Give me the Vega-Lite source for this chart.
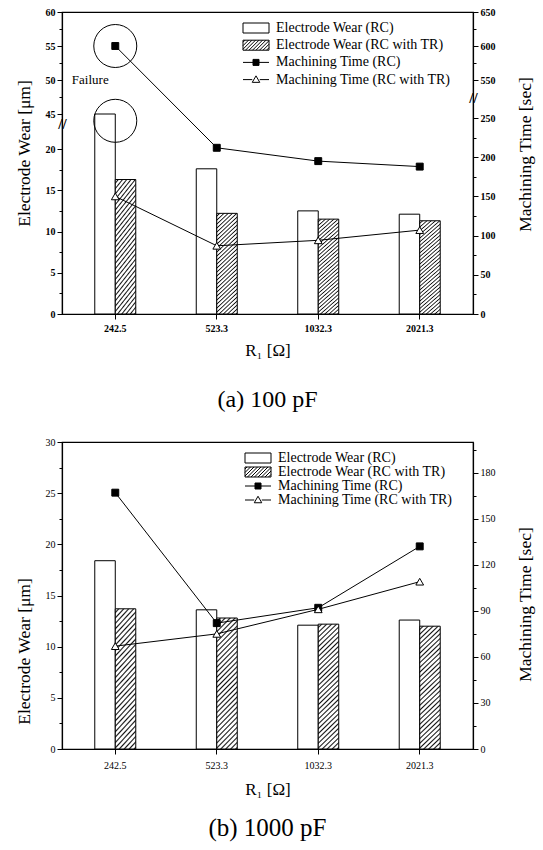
{
  "$schema": "https://vega.github.io/schema/vega-lite/v6.json",
  "background": "white",
  "padding": {"left": 14, "top": 6, "right": 5, "bottom": 5},
  "datasets": {
    "a_wear": [
      {"R": 242.5, "series": "Electrode Wear (RC)", "wear": 45},
      {"R": 523.3, "series": "Electrode Wear (RC)", "wear": 17.6},
      {"R": 1032.3, "series": "Electrode Wear (RC)", "wear": 12.5},
      {"R": 2021.3, "series": "Electrode Wear (RC)", "wear": 12.1},
      {"R": 242.5, "series": "Electrode Wear (RC with TR)", "wear": 16.3},
      {"R": 523.3, "series": "Electrode Wear (RC with TR)", "wear": 12.2},
      {"R": 1032.3, "series": "Electrode Wear (RC with TR)", "wear": 11.5},
      {"R": 2021.3, "series": "Electrode Wear (RC with TR)", "wear": 11.3}
    ],
    "a_time": [
      {"R": 242.5, "series": "Machining Time (RC)", "time": 600},
      {"R": 523.3, "series": "Machining Time (RC)", "time": 212},
      {"R": 1032.3, "series": "Machining Time (RC)", "time": 195},
      {"R": 2021.3, "series": "Machining Time (RC)", "time": 188},
      {"R": 242.5, "series": "Machining Time (RC with TR)", "time": 150},
      {"R": 523.3, "series": "Machining Time (RC with TR)", "time": 87},
      {"R": 1032.3, "series": "Machining Time (RC with TR)", "time": 94},
      {"R": 2021.3, "series": "Machining Time (RC with TR)", "time": 107}
    ],
    "a_note": [
      {"R": 242.5, "kind": "circle", "wear": 55},
      {"R": 242.5, "kind": "circle", "wear": 44},
      {"R": 242.5, "kind": "text", "wear": 50, "label": "Failure"}
    ],
    "b_wear": [
      {"R": 242.5, "series": "Electrode Wear (RC)", "wear": 18.4},
      {"R": 523.3, "series": "Electrode Wear (RC)", "wear": 13.6},
      {"R": 1032.3, "series": "Electrode Wear (RC)", "wear": 12.1},
      {"R": 2021.3, "series": "Electrode Wear (RC)", "wear": 12.6},
      {"R": 242.5, "series": "Electrode Wear (RC with TR)", "wear": 13.7},
      {"R": 523.3, "series": "Electrode Wear (RC with TR)", "wear": 12.8},
      {"R": 1032.3, "series": "Electrode Wear (RC with TR)", "wear": 12.2},
      {"R": 2021.3, "series": "Electrode Wear (RC with TR)", "wear": 12.0}
    ],
    "b_time": [
      {"R": 242.5, "series": "Machining Time (RC)", "time": 167},
      {"R": 523.3, "series": "Machining Time (RC)", "time": 82},
      {"R": 1032.3, "series": "Machining Time (RC)", "time": 92},
      {"R": 2021.3, "series": "Machining Time (RC)", "time": 132},
      {"R": 242.5, "series": "Machining Time (RC with TR)", "time": 67},
      {"R": 523.3, "series": "Machining Time (RC with TR)", "time": 75},
      {"R": 1032.3, "series": "Machining Time (RC with TR)", "time": 91},
      {"R": 2021.3, "series": "Machining Time (RC with TR)", "time": 109}
    ]
  },
  "spacing": 128,
  "bounds": "flush",
  "resolve": {
    "scale": {"x": "independent", "y": "independent", "fill": "independent", "xOffset": "independent"},
    "legend": {"fill": "independent"}
  },
  "vconcat": [
    {
      "width": 411,
      "height": 302,
      "title": {"text": "(a) 100 pF", "orient": "bottom", "fontSize": 24, "offset": 30},
      "encoding": {
        "x": {
          "field": "R", "type": "ordinal",
          "scale": {"type": "band", "paddingInner": 0.596, "paddingOuter": 0.323},
          "axis": {"title": "R₁ [Ω]", "labelAngle": 0, "labelFontSize": 10, "labelFontWeight": "bold", "tickSize": 5, "labelPadding": 4, "titleFontSize": 17, "titlePadding": 9}
        }
      },
      "layer": [
        {
          "encoding": {
            "y": {
              "field": "wear", "type": "quantitative",
              "scale": {"type": "linear", "domain": [0, 22, 44, 60], "range": [302, 120.5, 108.8, 0], "nice": false, "zero": false},
              "axis": {
                "title": "Electrode Wear [μm]", "titleFontSize": 17.5, "titlePadding": 12, "titleY": 141,
                "values": [0, 2.5, 5, 7.5, 10, 12.5, 15, 17.5, 20, 38, 45, 47.5, 50, 52.5, 55, 57.5, 60],
                "labelExpr": "datum.value === 38 ? '//' : (datum.value % 5 === 0 ? datum.label : '')",
                "tickSize": {"condition": [{"test": "datum.value === 38", "value": 0}, {"test": "datum.value % 5 === 0", "value": 5}], "value": 3},
                "labelAlign": {"condition": {"test": "datum.value === 38", "value": "center"}, "value": "right"},
                "labelPadding": {"condition": {"test": "datum.value === 38", "value": 0}, "value": 2},
                "labelFontSize": {"condition": {"test": "datum.value === 38", "value": 15}, "value": 10},
                "labelFontWeight": "bold", "labelOverlap": false
              }
            }
          },
          "layer": [
            {
              "data": {"name": "a_wear"},
              "transform": [{"filter": "datum.series === 'Electrode Wear (RC)'"}],
              "mark": {"type": "bar", "fill": "white", "stroke": "black", "strokeWidth": 1},
              "encoding": {"xOffset": {"field": "series", "type": "nominal", "scale": {"domain": ["Electrode Wear (RC)", "Electrode Wear (RC with TR)"], "paddingInner": 0, "paddingOuter": 0}}}
            },
            {
              "data": {"name": "a_wear"},
              "transform": [{"filter": "datum.series === 'Electrode Wear (RC with TR)'"}],
              "mark": {"type": "bar", "stroke": "black", "strokeWidth": 1,
                "fill": {
                  "gradient": "linear", "x1": 0, "y1": 0, "x2": 0.22, "y2": 1.15,
                  "stops": [
                    {"offset": 0, "color": "#fff"}, {"offset": 0.0133, "color": "#fff"}, {"offset": 0.0233, "color": "#111"},
                    {"offset": 0.0333, "color": "#fff"}, {"offset": 0.0467, "color": "#fff"}, {"offset": 0.0567, "color": "#111"},
                    {"offset": 0.0667, "color": "#fff"}, {"offset": 0.08, "color": "#fff"}, {"offset": 0.09, "color": "#111"},
                    {"offset": 0.1, "color": "#fff"}, {"offset": 0.1133, "color": "#fff"}, {"offset": 0.1233, "color": "#111"},
                    {"offset": 0.1333, "color": "#fff"}, {"offset": 0.1467, "color": "#fff"}, {"offset": 0.1567, "color": "#111"},
                    {"offset": 0.1667, "color": "#fff"}, {"offset": 0.18, "color": "#fff"}, {"offset": 0.19, "color": "#111"},
                    {"offset": 0.2, "color": "#fff"}, {"offset": 0.2133, "color": "#fff"}, {"offset": 0.2233, "color": "#111"},
                    {"offset": 0.2333, "color": "#fff"}, {"offset": 0.2467, "color": "#fff"}, {"offset": 0.2567, "color": "#111"},
                    {"offset": 0.2667, "color": "#fff"}, {"offset": 0.28, "color": "#fff"}, {"offset": 0.29, "color": "#111"},
                    {"offset": 0.3, "color": "#fff"}, {"offset": 0.3133, "color": "#fff"}, {"offset": 0.3233, "color": "#111"},
                    {"offset": 0.3333, "color": "#fff"}, {"offset": 0.3467, "color": "#fff"}, {"offset": 0.3567, "color": "#111"},
                    {"offset": 0.3667, "color": "#fff"}, {"offset": 0.38, "color": "#fff"}, {"offset": 0.39, "color": "#111"},
                    {"offset": 0.4, "color": "#fff"}, {"offset": 0.4133, "color": "#fff"}, {"offset": 0.4233, "color": "#111"},
                    {"offset": 0.4333, "color": "#fff"}, {"offset": 0.4467, "color": "#fff"}, {"offset": 0.4567, "color": "#111"},
                    {"offset": 0.4667, "color": "#fff"}, {"offset": 0.48, "color": "#fff"}, {"offset": 0.49, "color": "#111"},
                    {"offset": 0.5, "color": "#fff"}, {"offset": 0.5133, "color": "#fff"}, {"offset": 0.5233, "color": "#111"},
                    {"offset": 0.5333, "color": "#fff"}, {"offset": 0.5467, "color": "#fff"}, {"offset": 0.5567, "color": "#111"},
                    {"offset": 0.5667, "color": "#fff"}, {"offset": 0.58, "color": "#fff"}, {"offset": 0.59, "color": "#111"},
                    {"offset": 0.6, "color": "#fff"}, {"offset": 0.6133, "color": "#fff"}, {"offset": 0.6233, "color": "#111"},
                    {"offset": 0.6333, "color": "#fff"}, {"offset": 0.6467, "color": "#fff"}, {"offset": 0.6567, "color": "#111"},
                    {"offset": 0.6667, "color": "#fff"}, {"offset": 0.68, "color": "#fff"}, {"offset": 0.69, "color": "#111"},
                    {"offset": 0.7, "color": "#fff"}, {"offset": 0.7133, "color": "#fff"}, {"offset": 0.7233, "color": "#111"},
                    {"offset": 0.7333, "color": "#fff"}, {"offset": 0.7467, "color": "#fff"}, {"offset": 0.7567, "color": "#111"},
                    {"offset": 0.7667, "color": "#fff"}, {"offset": 0.78, "color": "#fff"}, {"offset": 0.79, "color": "#111"},
                    {"offset": 0.8, "color": "#fff"}, {"offset": 0.8133, "color": "#fff"}, {"offset": 0.8233, "color": "#111"},
                    {"offset": 0.8333, "color": "#fff"}, {"offset": 0.8467, "color": "#fff"}, {"offset": 0.8567, "color": "#111"},
                    {"offset": 0.8667, "color": "#fff"}, {"offset": 0.88, "color": "#fff"}, {"offset": 0.89, "color": "#111"},
                    {"offset": 0.9, "color": "#fff"}, {"offset": 0.9133, "color": "#fff"}, {"offset": 0.9233, "color": "#111"},
                    {"offset": 0.9333, "color": "#fff"}, {"offset": 0.9467, "color": "#fff"}, {"offset": 0.9567, "color": "#111"},
                    {"offset": 0.9667, "color": "#fff"}, {"offset": 0.98, "color": "#fff"}, {"offset": 0.99, "color": "#111"},
                    {"offset": 1, "color": "#fff"}
                  ]
                }
              },
              "encoding": {"xOffset": {"field": "series", "type": "nominal", "scale": {"domain": ["Electrode Wear (RC)", "Electrode Wear (RC with TR)"], "paddingInner": 0, "paddingOuter": 0}}}
            },
            {
              "data": {"name": "a_note"},
              "transform": [{"filter": "datum.kind === 'circle'"}],
              "mark": {"type": "point", "shape": "circle", "size": 1849, "filled": false, "stroke": "black", "strokeWidth": 1, "opacity": 1}
            },
            {
              "data": {"name": "a_note"},
              "transform": [{"filter": "datum.kind === 'text'"}],
              "mark": {"type": "text", "fontSize": 13, "dx": -25, "color": "black", "font": "Liberation Serif"},
              "encoding": {"text": {"field": "label"}}
            }
          ]
        },
        {
          "data": {"name": "a_time"},
          "encoding": {
            "y": {
              "field": "time", "type": "quantitative",
              "scale": {"type": "linear", "domain": [0, 275, 525, 650], "range": [302, 86.4, 85, 0], "nice": false, "zero": false},
              "axis": {
                "orient": "right", "title": "Machining Time [sec]", "titleAngle": 270, "titleBaseline": "top", "titleFontSize": 17.5, "titlePadding": 21, "titleY": 142,
                "values": [0, 25, 50, 75, 100, 125, 150, 175, 200, 225, 250, 400, 550, 575, 600, 625, 650],
                "labelExpr": "datum.value === 400 ? '//' : (datum.value % 50 === 0 ? datum.label : '')",
                "tickSize": {"condition": [{"test": "datum.value === 400", "value": 0}, {"test": "datum.value % 50 === 0", "value": 5}], "value": 3},
                "labelAlign": {"condition": {"test": "datum.value === 400", "value": "center"}, "value": "left"},
                "labelPadding": {"condition": {"test": "datum.value === 400", "value": 0}, "value": 2},
                "labelFontSize": {"condition": {"test": "datum.value === 400", "value": 15}, "value": 10},
                "labelFontWeight": "bold", "labelOverlap": false
              }
            }
          },
          "layer": [
            {"mark": {"type": "line", "color": "black", "strokeWidth": 1}, "encoding": {"detail": {"field": "series"}}},
            {
              "mark": {"type": "point", "filled": true, "stroke": "black", "strokeWidth": 1, "opacity": 1},
              "encoding": {
                "shape": {"condition": {"test": "datum.series === 'Machining Time (RC with TR)'", "value": "triangle-up"}, "value": "square"},
                "size": {"condition": {"test": "datum.series === 'Machining Time (RC with TR)'", "value": 60}, "value": 48},
                "fill": {
                  "field": "series", "type": "nominal",
                  "scale": {"domain": ["Electrode Wear (RC)", "Electrode Wear (RC with TR)", "Machining Time (RC)", "Machining Time (RC with TR)"], "range": ["white", "white", "black", "white"]},
                  "legend": {
                    "orient": "none", "legendX": 187, "legendY": 9, "title": null, "padding": 0,
                    "symbolSize": 100, "symbolStrokeColor": "black", "symbolStrokeWidth": 1, "symbolOpacity": 1,
                    "labelFontSize": 14, "labelOffset": 13, "rowPadding": 3.2, "labelLimit": 300,
                    "encode": {"symbols": {"update": {
                      "shape": {"signal": "datum.value === 'Electrode Wear (RC)' ? 'M -2.6 -1 H 2.6 V 1 H -2.6 Z' : datum.value === 'Electrode Wear (RC with TR)' ? 'M -2.6 -1 H 2.6 V 1 H -2.6 Z M -2.6 -0.6 L -2.2 -1 M -2.6 0.1 L -1.5 -1 M -2.6 0.8 L -0.8 -1 M -2.1 1 L -0.1 -1 M -1.4 1 L 0.6 -1 M -0.7 1 L 1.3 -1 M 0 1 L 2 -1 M 0.7 1 L 2.6 -0.9 M 1.4 1 L 2.6 -0.2 M 2.1 1 L 2.6 0.5' : datum.value === 'Machining Time (RC)' ? 'M -2.6 0 H 2.6 M -0.6 -0.6 H 0.6 V 0.6 H -0.6 Z' : 'M -2.6 0 H -0.75 M 0.75 0 H 2.6 M 0 -0.75 L 0.75 0.55 H -0.75 Z'"},
                      "stroke": {"value": "black"},
                      "strokeWidth": {"value": 1}
                    }}}
                  }
                }
              }
            }
          ]
        }
      ],
      "resolve": {"scale": {"y": "independent"}}
    },
    {
      "width": 411,
      "height": 307,
      "title": {"text": "(b) 1000 pF", "orient": "bottom", "fontSize": 25, "offset": 19},
      "encoding": {
        "x": {
          "field": "R", "type": "ordinal",
          "scale": {"type": "band", "paddingInner": 0.596, "paddingOuter": 0.323},
          "axis": {"title": "R₁ [Ω]", "labelAngle": 0, "labelFontSize": 10, "tickSize": 5, "labelPadding": 6, "titleFontSize": 17, "titlePadding": 11}
        }
      },
      "layer": [
        {
          "encoding": {
            "y": {
              "field": "wear", "type": "quantitative",
              "scale": {"domain": [0, 30], "nice": false, "zero": false},
              "axis": {
                "title": "Electrode Wear [μm]", "titleFontSize": 17.5, "titlePadding": 12, "titleY": 209,
                "values": [0, 2.5, 5, 7.5, 10, 12.5, 15, 17.5, 20, 22.5, 25, 27.5, 30],
                "labelExpr": "datum.value % 5 === 0 ? datum.label : ''",
                "tickSize": {"condition": {"test": "datum.value % 5 === 0", "value": 5}, "value": 3},
                "labelPadding": 2, "labelFontSize": 10, "labelOverlap": false
              }
            }
          },
          "layer": [
            {
              "data": {"name": "b_wear"},
              "transform": [{"filter": "datum.series === 'Electrode Wear (RC)'"}],
              "mark": {"type": "bar", "fill": "white", "stroke": "black", "strokeWidth": 1},
              "encoding": {"xOffset": {"field": "series", "type": "nominal", "scale": {"domain": ["Electrode Wear (RC)", "Electrode Wear (RC with TR)"], "paddingInner": 0, "paddingOuter": 0}}}
            },
            {
              "data": {"name": "b_wear"},
              "transform": [{"filter": "datum.series === 'Electrode Wear (RC with TR)'"}],
              "mark": {"type": "bar", "stroke": "black", "strokeWidth": 1,
                "fill": {
                  "gradient": "linear", "x1": 0, "y1": 0, "x2": 0.18, "y2": 1.13,
                  "stops": [
                    {"offset": 0, "color": "#fff"}, {"offset": 0.0133, "color": "#fff"}, {"offset": 0.0233, "color": "#111"},
                    {"offset": 0.0333, "color": "#fff"}, {"offset": 0.0467, "color": "#fff"}, {"offset": 0.0567, "color": "#111"},
                    {"offset": 0.0667, "color": "#fff"}, {"offset": 0.08, "color": "#fff"}, {"offset": 0.09, "color": "#111"},
                    {"offset": 0.1, "color": "#fff"}, {"offset": 0.1133, "color": "#fff"}, {"offset": 0.1233, "color": "#111"},
                    {"offset": 0.1333, "color": "#fff"}, {"offset": 0.1467, "color": "#fff"}, {"offset": 0.1567, "color": "#111"},
                    {"offset": 0.1667, "color": "#fff"}, {"offset": 0.18, "color": "#fff"}, {"offset": 0.19, "color": "#111"},
                    {"offset": 0.2, "color": "#fff"}, {"offset": 0.2133, "color": "#fff"}, {"offset": 0.2233, "color": "#111"},
                    {"offset": 0.2333, "color": "#fff"}, {"offset": 0.2467, "color": "#fff"}, {"offset": 0.2567, "color": "#111"},
                    {"offset": 0.2667, "color": "#fff"}, {"offset": 0.28, "color": "#fff"}, {"offset": 0.29, "color": "#111"},
                    {"offset": 0.3, "color": "#fff"}, {"offset": 0.3133, "color": "#fff"}, {"offset": 0.3233, "color": "#111"},
                    {"offset": 0.3333, "color": "#fff"}, {"offset": 0.3467, "color": "#fff"}, {"offset": 0.3567, "color": "#111"},
                    {"offset": 0.3667, "color": "#fff"}, {"offset": 0.38, "color": "#fff"}, {"offset": 0.39, "color": "#111"},
                    {"offset": 0.4, "color": "#fff"}, {"offset": 0.4133, "color": "#fff"}, {"offset": 0.4233, "color": "#111"},
                    {"offset": 0.4333, "color": "#fff"}, {"offset": 0.4467, "color": "#fff"}, {"offset": 0.4567, "color": "#111"},
                    {"offset": 0.4667, "color": "#fff"}, {"offset": 0.48, "color": "#fff"}, {"offset": 0.49, "color": "#111"},
                    {"offset": 0.5, "color": "#fff"}, {"offset": 0.5133, "color": "#fff"}, {"offset": 0.5233, "color": "#111"},
                    {"offset": 0.5333, "color": "#fff"}, {"offset": 0.5467, "color": "#fff"}, {"offset": 0.5567, "color": "#111"},
                    {"offset": 0.5667, "color": "#fff"}, {"offset": 0.58, "color": "#fff"}, {"offset": 0.59, "color": "#111"},
                    {"offset": 0.6, "color": "#fff"}, {"offset": 0.6133, "color": "#fff"}, {"offset": 0.6233, "color": "#111"},
                    {"offset": 0.6333, "color": "#fff"}, {"offset": 0.6467, "color": "#fff"}, {"offset": 0.6567, "color": "#111"},
                    {"offset": 0.6667, "color": "#fff"}, {"offset": 0.68, "color": "#fff"}, {"offset": 0.69, "color": "#111"},
                    {"offset": 0.7, "color": "#fff"}, {"offset": 0.7133, "color": "#fff"}, {"offset": 0.7233, "color": "#111"},
                    {"offset": 0.7333, "color": "#fff"}, {"offset": 0.7467, "color": "#fff"}, {"offset": 0.7567, "color": "#111"},
                    {"offset": 0.7667, "color": "#fff"}, {"offset": 0.78, "color": "#fff"}, {"offset": 0.79, "color": "#111"},
                    {"offset": 0.8, "color": "#fff"}, {"offset": 0.8133, "color": "#fff"}, {"offset": 0.8233, "color": "#111"},
                    {"offset": 0.8333, "color": "#fff"}, {"offset": 0.8467, "color": "#fff"}, {"offset": 0.8567, "color": "#111"},
                    {"offset": 0.8667, "color": "#fff"}, {"offset": 0.88, "color": "#fff"}, {"offset": 0.89, "color": "#111"},
                    {"offset": 0.9, "color": "#fff"}, {"offset": 0.9133, "color": "#fff"}, {"offset": 0.9233, "color": "#111"},
                    {"offset": 0.9333, "color": "#fff"}, {"offset": 0.9467, "color": "#fff"}, {"offset": 0.9567, "color": "#111"},
                    {"offset": 0.9667, "color": "#fff"}, {"offset": 0.98, "color": "#fff"}, {"offset": 0.99, "color": "#111"},
                    {"offset": 1, "color": "#fff"}
                  ]
                }
              },
              "encoding": {"xOffset": {"field": "series", "type": "nominal", "scale": {"domain": ["Electrode Wear (RC)", "Electrode Wear (RC with TR)"], "paddingInner": 0, "paddingOuter": 0}}}
            }
          ]
        },
        {
          "data": {"name": "b_time"},
          "encoding": {
            "y": {
              "field": "time", "type": "quantitative",
              "scale": {"domain": [0, 200], "nice": false, "zero": false},
              "axis": {
                "orient": "right", "title": "Machining Time [sec]", "titleAngle": 270, "titleBaseline": "top", "titleFontSize": 17.5, "titlePadding": 21, "titleY": 162,
                "values": [0, 15, 30, 45, 60, 75, 90, 105, 120, 135, 150, 165, 180, 195],
                "labelExpr": "datum.value % 30 === 0 ? datum.label : ''",
                "tickSize": {"condition": {"test": "datum.value % 30 === 0", "value": 5}, "value": 3},
                "labelPadding": 2, "labelFontSize": 10, "labelOverlap": false
              }
            }
          },
          "layer": [
            {"mark": {"type": "line", "color": "black", "strokeWidth": 1}, "encoding": {"detail": {"field": "series"}}},
            {
              "mark": {"type": "point", "filled": true, "stroke": "black", "strokeWidth": 1, "opacity": 1},
              "encoding": {
                "shape": {"condition": {"test": "datum.series === 'Machining Time (RC with TR)'", "value": "triangle-up"}, "value": "square"},
                "size": {"condition": {"test": "datum.series === 'Machining Time (RC with TR)'", "value": 60}, "value": 48},
                "fill": {
                  "field": "series", "type": "nominal",
                  "scale": {"domain": ["Electrode Wear (RC)", "Electrode Wear (RC with TR)", "Machining Time (RC)", "Machining Time (RC with TR)"], "range": ["white", "white", "black", "white"]},
                  "legend": {
                    "orient": "none", "legendX": 189, "legendY": 9, "title": null, "padding": 0,
                    "symbolSize": 100, "symbolStrokeColor": "black", "symbolStrokeWidth": 1, "symbolOpacity": 1,
                    "labelFontSize": 14, "labelOffset": 13, "rowPadding": -0.7, "labelLimit": 300,
                    "encode": {"symbols": {"update": {
                      "shape": {"signal": "datum.value === 'Electrode Wear (RC)' ? 'M -2.6 -1 H 2.6 V 1 H -2.6 Z' : datum.value === 'Electrode Wear (RC with TR)' ? 'M -2.6 -1 H 2.6 V 1 H -2.6 Z M -2.6 -0.6 L -2.2 -1 M -2.6 0.1 L -1.5 -1 M -2.6 0.8 L -0.8 -1 M -2.1 1 L -0.1 -1 M -1.4 1 L 0.6 -1 M -0.7 1 L 1.3 -1 M 0 1 L 2 -1 M 0.7 1 L 2.6 -0.9 M 1.4 1 L 2.6 -0.2 M 2.1 1 L 2.6 0.5' : datum.value === 'Machining Time (RC)' ? 'M -2.6 0 H 2.6 M -0.6 -0.6 H 0.6 V 0.6 H -0.6 Z' : 'M -2.6 0 H -0.75 M 0.75 0 H 2.6 M 0 -0.75 L 0.75 0.55 H -0.75 Z'"},
                      "stroke": {"value": "black"},
                      "strokeWidth": {"value": 1}
                    }}}
                  }
                }
              }
            }
          ]
        }
      ],
      "resolve": {"scale": {"y": "independent"}}
    }
  ],
  "config": {
    "font": "Liberation Serif",
    "view": {"stroke": "black", "strokeWidth": 1.2},
    "axis": {"grid": false, "domainColor": "black", "domainWidth": 1.2, "tickColor": "black", "tickWidth": 1, "labelColor": "black", "titleColor": "black", "labelFont": "Liberation Serif", "titleFont": "Liberation Serif", "titleFontWeight": "normal"},
    "legend": {"labelFont": "Liberation Serif", "labelColor": "black"},
    "title": {"font": "Liberation Serif", "fontWeight": "normal", "color": "black", "anchor": "middle"}
  }
}
